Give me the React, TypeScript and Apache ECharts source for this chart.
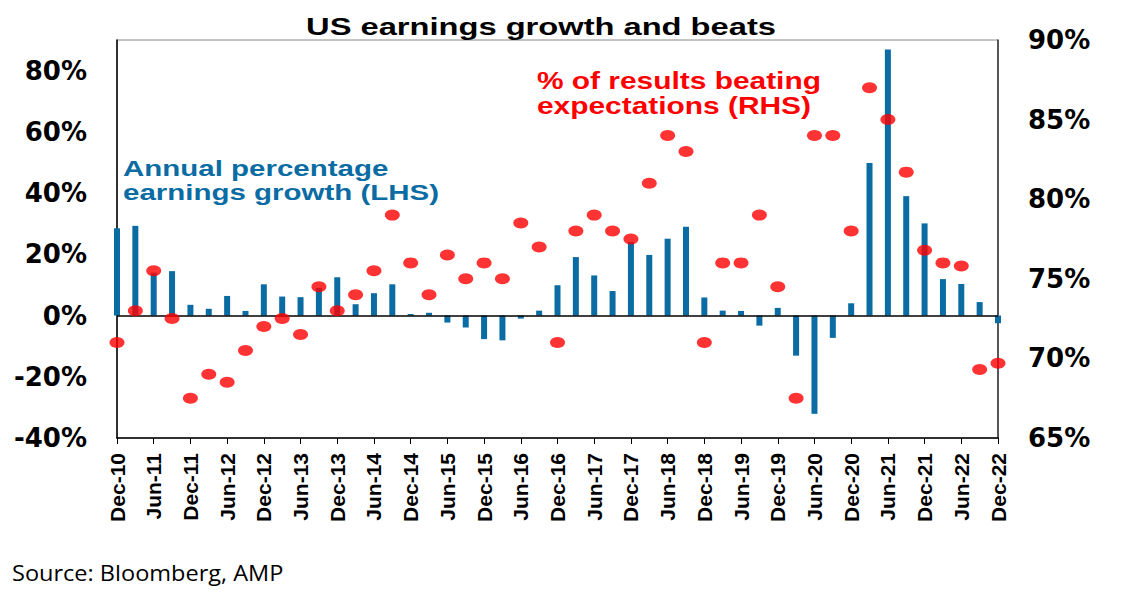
import React, { useEffect, useRef } from 'react';
import * as echarts from 'echarts';

// quarter labels, Dec-10 .. Dec-22
const quarters = [
  'Dec-10', 'Mar-11', 'Jun-11', 'Sep-11', 'Dec-11', 'Mar-12', 'Jun-12', 'Sep-12',
  'Dec-12', 'Mar-13', 'Jun-13', 'Sep-13', 'Dec-13', 'Mar-14', 'Jun-14', 'Sep-14',
  'Dec-14', 'Mar-15', 'Jun-15', 'Sep-15', 'Dec-15', 'Mar-16', 'Jun-16', 'Sep-16',
  'Dec-16', 'Mar-17', 'Jun-17', 'Sep-17', 'Dec-17', 'Mar-18', 'Jun-18', 'Sep-18',
  'Dec-18', 'Mar-19', 'Jun-19', 'Sep-19', 'Dec-19', 'Mar-20', 'Jun-20', 'Sep-20',
  'Dec-20', 'Mar-21', 'Jun-21', 'Sep-21', 'Dec-21', 'Mar-22', 'Jun-22', 'Sep-22',
  'Dec-22',
];

// annual % earnings growth (LHS)
const earningsGrowth = [
  28.5, 29.3, 14, 14.5, 3.5, 2.2, 6.4, 1.5, 10.2, 6.2, 6.0, 9, 12.5, 3.7, 7.3, 10.2,
  0.5, 0.9, -2.3, -3.9, -7.7, -8.1, -1.0, 1.6, 9.9, 19.1, 13.1, 8.0, 24, 19.8, 25.1, 29.0,
  5.9, 1.6, 1.5, -3.3, 2.5, -13.1, -32.1, -7.3, 4.0, 49.8, 86.9, 39.0, 30.1, 11.9, 10.3, 4.4,
  -2.5,
];

// % of results beating expectations (RHS)
const beats = [
  71.0, 73.0, 75.5, 72.5, 67.5, 69.0, 68.5, 70.5, 72.0, 72.5, 71.5, 74.5, 73.0, 74.0, 75.5, 79.0,
  76.0, 74.0, 76.5, 75.0, 76.0, 75.0, 78.5, 77.0, 71.0, 78.0, 79.0, 78.0, 77.5, 81.0, 84.0, 83.0,
  71.0, 76.0, 76.0, 79.0, 74.5, 67.5, 84.0, 84.0, 78.0, 87.0, 85.0, 81.7, 76.8, 76.0, 75.8, 69.3,
  69.7,
];

const leftTicks = { min: -40, max: 90, interval: 20 };
const rightTicks = { min: 65, max: 90, interval: 5 };

const BLUE = '#0a6ca3';
const RED = '#ff0000';

// stretched bold text, like the original export
const label = (text: string, x: number, y: number, color: string, size: number, sx: number, align = 'left') => ({
  type: 'text',
  x,
  y,
  scaleX: sx,
  silent: true,
  style: {
    text,
    fill: color,
    fontSize: size,
    fontWeight: 'bold',
    fontFamily: '"Liberation Sans", Arial, sans-serif',
    textAlign: align,
    align,
    textVerticalAlign: 'middle',
    verticalAlign: 'middle',
  },
});

const App: React.FC = () => {
  const chartRef = useRef<HTMLDivElement>(null);

  useEffect(() => {
    document.body.style.margin = '0';
    if (!chartRef.current) return;
    const chart = echarts.init(chartRef.current, null, { renderer: 'svg' });

    const yLabel = {
      color: '#000',
      fontSize: 26,
      fontWeight: 'bold' as const,
      fontFamily: '"DejaVu Sans", sans-serif',
      margin: 30,
    };

    const options: echarts.EChartsOption = {
      animation: false,
      backgroundColor: '#fff',
      grid: {
        left: 117,
        top: 40,
        width: 881,
        height: 398,
        show: true,
        borderColor: '#888',
        borderWidth: 1,
      },
      xAxis: {
        type: 'category',
        data: quarters,
        boundaryGap: false,
        axisLine: { onZero: false, lineStyle: { color: '#000', width: 1.5 } },
        axisTick: { show: true, interval: 1, length: 6, lineStyle: { color: '#000' } },
        axisLabel: {
          interval: 1,
          rotate: 90,
          margin: 15,
          color: '#000',
          fontSize: 21,
          fontWeight: 'bold',
          fontFamily: '"Liberation Sans", Arial, sans-serif',
        },
        splitLine: { show: false },
      },
      yAxis: [
        {
          type: 'value',
          ...leftTicks,
          position: 'left',
          axisLine: { show: true, lineStyle: { color: '#000', width: 1.5 } },
          axisTick: { show: false },
          splitLine: { show: false },
          axisLabel: {
            ...yLabel,
            formatter: (v: number) => (v > 80 ? '' : `${v}%`),
          },
        },
        {
          type: 'value',
          ...rightTicks,
          position: 'right',
          axisLine: { show: true, lineStyle: { color: '#333', width: 1.5 } },
          axisTick: { show: false },
          splitLine: { show: false },
          axisLabel: { ...yLabel, formatter: (v: number) => `${v}%` },
        },
      ],
      series: [
        {
          name: 'Annual percentage earnings growth (LHS)',
          type: 'bar',
          yAxisIndex: 0,
          barWidth: 6,
          itemStyle: { color: BLUE },
          data: earningsGrowth,
          markLine: {
            silent: true,
            symbol: 'none',
            label: { show: false },
            lineStyle: { color: '#000', width: 1.5, type: 'solid' },
            data: [{ yAxis: 0 }],
          },
        },
        {
          name: '% of results beating expectations (RHS)',
          type: 'scatter',
          yAxisIndex: 1,
          symbol: 'circle',
          symbolSize: [15, 11],
          itemStyle: { color: RED },
          z: 5,
          data: beats,
        },
      ],
      graphic: [
        label('US earnings growth and beats', 541, 26.5, '#000', 23.5, 1.39, 'center'),
        label('Annual percentage', 123, 168, BLUE, 22, 1.34),
        label('earnings growth (LHS)', 123, 192.5, BLUE, 22, 1.34),
        label('% of results beating', 537, 81.5, RED, 23, 1.3),
        label('expectations (RHS)', 537, 106, RED, 23, 1.3),
        {
          type: 'text',
          x: 12,
          y: 573,
          scaleX: 1.07,
          silent: true,
          style: {
            text: 'Source: Bloomberg, AMP',
            fill: '#000',
            fontSize: 22,
            fontFamily: '"Open Sans", sans-serif',
            textAlign: 'left',
            align: 'left',
            textVerticalAlign: 'middle',
            verticalAlign: 'middle',
          },
        },
      ],
    };

    chart.setOption(options);

    return () => {
      chart.dispose();
    };
  }, []);

  return <div ref={chartRef} style={{ width: 1121, height: 613 }} />;
};

export default App;
